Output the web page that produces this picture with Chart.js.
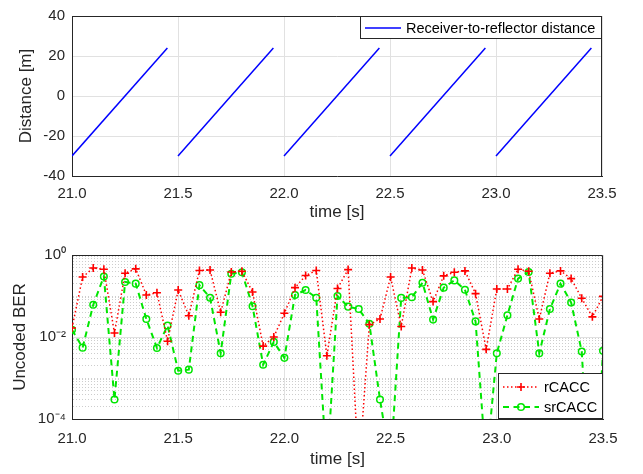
<!DOCTYPE html>
<html><head><meta charset="utf-8">
<script src="https://cdn.jsdelivr.net/npm/chart.js@4/dist/chart.umd.min.js"></script>
<style>
html,body{margin:0;padding:0;background:#fff;}
#wrap{position:relative;width:643px;height:474px;overflow:hidden;background:#fff;}
#c1{position:absolute;left:0;top:0;}
#c2{position:absolute;left:0;top:240px;}
</style></head><body>
<div id="wrap"><canvas id="c1" width="643" height="240"></canvas><canvas id="c2" width="643" height="234"></canvas></div>
<script>
// ---------- data ----------
const timeTicks = [21.0, 21.5, 22.0, 22.5, 23.0, 23.5];
const distTicks = [-40, -20, 0, 20, 40];
// receiver-to-reflector distance: ramps (start/end of each ramp)
const distTime  = [21.00, 21.45, 21.50, 21.95, 22.00, 22.45, 22.50, 22.95, 23.00, 23.45];
const distValue = [-30, 24, -30, 24, -30, 24, -30, 24, -30, 24];
const distLabel = 'Receiver-to-reflector distance';

const berTime = [21.00,21.05,21.10,21.15,21.20,21.25,21.30,21.35,21.40,21.45,
                 21.50,21.55,21.60,21.65,21.70,21.75,21.80,21.85,21.90,21.95,
                 22.00,22.05,22.10,22.15,22.20,22.25,22.30,22.35,22.40,22.45,
                 22.50,22.55,22.60,22.65,22.70,22.75,22.80,22.85,22.90,22.95,
                 23.00,23.05,23.10,23.15,23.20,23.25,23.30,23.35,23.40,23.45,23.50];
const rCACC = [0.0166,0.29,0.48,0.45,0.0125,0.36,0.46,0.106,0.12,0.0079,
               0.14,0.033,0.42,0.43,0.040,0.385,0.40,0.125,0.006,0.010,
               0.038,0.16,0.315,0.42,0.0035,0.153,0.44,5e-6,0.020,0.0275,
               0.29,0.018,0.48,0.43,0.073,0.31,0.38,0.41,0.114,0.005,
               0.148,0.148,0.45,0.40,0.0275,0.36,0.41,0.266,0.088,0.031,0.098];
const srCACC = [0.015,0.0055,0.061,0.30,0.0003,0.22,0.20,0.0275,0.0054,0.019,
                0.0015,0.0016,0.184,0.091,0.004,0.35,0.38,0.056,0.0021,0.0076,
                0.0031,0.106,0.14,0.091,5e-6,0.10,0.055,0.048,0.021,0.0003,
                8e-6,0.090,0.093,0.21,0.0266,0.16,0.24,0.142,0.024,7e-6,
                0.004,0.034,0.266,0.385,0.004,0.048,0.20,0.069,0.0044,1e-7,0.0046];
const berTickValues = [1e-4, 1e-2, 1];
const berTickLabels = ['10\u207B\u2074', '10\u207B\u00B2', '10\u2070'];

// ---------- styling ----------
const FONT = "'Liberation Sans', Arial, Helvetica, sans-serif";
const AX = '#262626';
const GRID = '#e1e1e1';
const MINOR = '#cdcdcd';

// log grid positions (1..9 x 10^k)
const logGrid = [];
for (let e = -4; e <= 0; e++) {
  for (let k = 1; k <= 9; k++) {
    const v = k * Math.pow(10, e);
    if (v <= 1.0000001) logGrid.push(v);
  }
}
const isLabeled = v => berTickValues.some(t => Math.abs(Math.log10(v) - Math.log10(t)) < 1e-6);

const framePlugin = {
  id: 'frame',
  afterDraw(chart) {
    const {ctx, chartArea: a} = chart;
    ctx.save();
    ctx.strokeStyle = AX; ctx.lineWidth = 1;
    ctx.beginPath();
    const t = Math.round(a.top) + 0.5, r = Math.round(a.right) - 0.5;
    ctx.moveTo(Math.round(a.left), t); ctx.lineTo(r, t); ctx.lineTo(r, Math.round(a.bottom));
    ctx.stroke();
    ctx.restore();
  }
};

const boxLegendPlugin = {
  id: 'boxLegend',
  afterDraw(chart, args, opts) {
    if (!opts || !opts.display) return;
    const {ctx, chartArea: a} = chart;
    const w = opts.width, h = opts.height;
    const left = a.right - w;
    const top = opts.anchor === 'bottom' ? a.bottom - h : a.top;
    ctx.save();
    ctx.fillStyle = '#ffffff';
    ctx.fillRect(left, top, w, h);
    ctx.strokeStyle = AX; ctx.lineWidth = 1;
    ctx.strokeRect(Math.round(left) + 0.5, Math.round(top) + 0.5, Math.round(w) - 1, Math.round(h) - 1);
    chart.data.datasets.forEach((ds, i) => {
      const y = top + opts.firstY + i * opts.rowStep;
      const x0 = left + 5, x1 = left + 41;
      ctx.save();
      ctx.strokeStyle = ds.borderColor;
      ctx.lineWidth = ds.borderWidth;
      ctx.setLineDash(ds.borderDash || []);
      ctx.beginPath(); ctx.moveTo(x0, y); ctx.lineTo(x1, y); ctx.stroke();
      ctx.setLineDash([]);
      if (ds.pointRadius > 0) {
        ctx.strokeStyle = ds.pointBorderColor || ds.borderColor;
        ctx.fillStyle = ds.pointBackgroundColor || 'rgba(0,0,0,0)';
        ctx.lineWidth = ds.pointBorderWidth || 1;
        Chart.helpers.drawPoint(ctx, {pointStyle: ds.pointStyle, rotation: 0, radius: ds.pointRadius, borderWidth: ds.pointBorderWidth}, (x0 + x1) / 2, y);
      }
      ctx.restore();
      ctx.fillStyle = '#000000';
      ctx.font = opts.fontSize + 'px ' + FONT;
      ctx.textBaseline = 'middle';
      ctx.textAlign = 'left';
      ctx.fillText(ds.label, left + 46, y + 0.5);
    });
    ctx.restore();
  }
};

// ---------- top chart ----------
new Chart(document.getElementById('c1'), {
  type: 'line',
  data: {
    datasets: [{
      label: distLabel,
      data: distTime.map((t, i) => ({x: t, y: distValue[i]})),
      borderColor: '#0000ff', borderWidth: 1.5, pointRadius: 0, fill: false, tension: 0,
      segment: { borderColor: c => (c.p1.parsed.y < c.p0.parsed.y ? 'rgba(0,0,0,0)' : '#0000ff') },
      clip: 0
    }]
  },
  options: {
    responsive: false, animation: false, devicePixelRatio: 1,
    layout: { padding: { left: 0, right: 41, top: 9, bottom: 0 } },
    plugins: {
      legend: { display: false }, tooltip: { enabled: false },
      boxLegend: { display: true, anchor: 'top', width: 242, height: 23, firstY: 12, rowStep: 20, fontSize: 14.5 }
    },
    scales: {
      x: {
        type: 'linear', min: 21, max: 23.5,
        afterBuildTicks: s => { s.ticks = timeTicks.map(v => ({value: v})); },
        ticks: { callback: v => Number(v).toFixed(1), color: AX, font: {family: FONT, size: 15}, padding: 9, maxRotation: 0, autoSkip: false },
        grid: { color: GRID, drawTicks: false },
        border: { color: AX, width: 1 },
        title: { display: true, text: 'time [s]', color: AX, font: {family: FONT, size: 17}, padding: {top: 0, bottom: 17} },
        afterFit: s => { s.height = 64; }
      },
      y: {
        type: 'linear', min: -40, max: 40,
        afterBuildTicks: s => { s.ticks = distTicks.map(v => ({value: v})); },
        ticks: { color: AX, font: {family: FONT, size: 15}, padding: 7, autoSkip: false },
        grid: { color: GRID, drawTicks: false },
        border: { color: AX, width: 1 },
        title: { display: true, text: 'Distance [m]', color: AX, font: {family: FONT, size: 17}, padding: {top: 16, bottom: 0} },
        afterFit: s => { s.width = 72; }
      }
    }
  },
  plugins: [framePlugin, boxLegendPlugin]
});

// ---------- bottom chart ----------
new Chart(document.getElementById('c2'), {
  type: 'line',
  data: {
    datasets: [{
      label: 'rCACC',
      data: berTime.map((t, i) => ({x: t, y: rCACC[i]})),
      borderColor: '#ff0000', borderWidth: 1.5, borderDash: [1.5, 2.5],
      pointStyle: 'cross', pointRadius: 4, pointBorderWidth: 1.6,
      pointBorderColor: '#ff0000', pointBackgroundColor: '#ff0000',
      fill: false, tension: 0, clip: 0
    }, {
      label: 'srCACC',
      data: berTime.map((t, i) => ({x: t, y: srCACC[i]})),
      borderColor: '#00e600', borderWidth: 2, borderDash: [6, 4.5],
      pointStyle: 'circle', pointRadius: 3.3, pointBorderWidth: 1.5,
      pointBorderColor: '#00e600', pointBackgroundColor: 'rgba(0,0,0,0)',
      fill: false, tension: 0, clip: 0
    }]
  },
  options: {
    responsive: false, animation: false, devicePixelRatio: 1,
    layout: { padding: { left: 0, right: 40, top: 13, bottom: 0 } },
    plugins: {
      legend: { display: false }, tooltip: { enabled: false },
      boxLegend: { display: true, anchor: 'bottom', width: 105, height: 46, firstY: 14, rowStep: 20, fontSize: 14.5 }
    },
    scales: {
      x: {
        type: 'linear', min: 21, max: 23.5,
        afterBuildTicks: s => { s.ticks = timeTicks.map(v => ({value: v})); },
        ticks: { callback: v => Number(v).toFixed(1), color: AX, font: {family: FONT, size: 15}, padding: 11, maxRotation: 0, autoSkip: false },
        grid: { color: GRID, drawTicks: false },
        border: { color: AX, width: 1 },
        title: { display: true, text: 'time [s]', color: AX, font: {family: FONT, size: 17}, padding: {top: 0, bottom: 4} },
        afterFit: s => { s.height = 55; }
      },
      y: {
        type: 'logarithmic', min: 1e-4, max: 1,
        afterBuildTicks: s => { s.ticks = logGrid.map(v => ({value: v})); },
        ticks: {
          autoSkip: false, color: AX, font: {family: FONT, size: 15}, padding: 6,
          callback: (v) => { const i = berTickValues.findIndex(t => Math.abs(Math.log10(v) - Math.log10(t)) < 1e-6); return i >= 0 ? berTickLabels[i] : ''; }
        },
        grid: { drawTicks: false, color: c => (c.tick && !isLabeled(c.tick.value) ? MINOR : GRID) },
        border: { color: AX, width: 1, dash: c => (c.tick && !isLabeled(c.tick.value) ? [1, 2] : []) },
        title: { display: true, text: 'Uncoded BER', color: AX, font: {family: FONT, size: 17}, padding: {top: 10, bottom: 0} },
        afterFit: s => { s.width = 72; }
      }
    }
  },
  plugins: [framePlugin, boxLegendPlugin]
});
</script>
</body></html>
